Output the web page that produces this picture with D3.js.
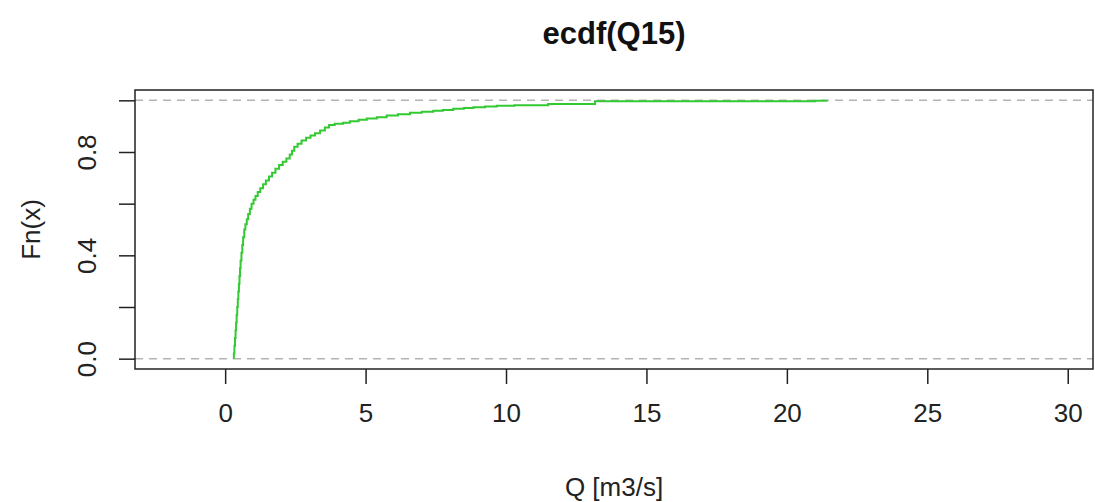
<!DOCTYPE html>
<html>
<head>
<meta charset="utf-8">
<script src="https://cdn.jsdelivr.net/npm/d3@7"></script>
<style>
  body { margin: 0; background: #fff; }
  svg { display: block; font-family: "Liberation Sans", Arial, sans-serif; }
</style>
</head>
<body>
<svg id="chart" width="1095" height="502"></svg>
<script>
// ECDF knots (Q in m3/s) and Fn values
const qKnots = [0.31, 0.31, 0.33, 0.35, 0.37, 0.39, 0.41, 0.43, 0.45, 0.47, 0.49, 0.51, 0.53, 0.55, 0.58, 0.61, 0.64, 0.68, 0.72, 0.77, 0.82, 0.88, 0.94, 1.01, 1.08, 1.16, 1.25, 1.35, 1.45, 1.56, 1.67, 1.79, 1.92, 2.05, 2.18, 2.30, 2.38, 2.46, 2.58, 2.72, 2.88, 3.04, 3.20, 3.38, 3.55, 3.70, 3.90, 4.20, 4.44, 4.75, 5.04, 5.40, 5.75, 6.15, 6.58, 7.00, 7.41, 7.75, 8.12, 8.50, 8.84, 9.25, 9.67, 10.3, 11.5, 13.17, 21.0, 21.42];
const fnValues = [0.0, 0.02, 0.05, 0.08, 0.11, 0.14, 0.17, 0.20, 0.23, 0.26, 0.29, 0.32, 0.35, 0.38, 0.41, 0.44, 0.47, 0.50, 0.52, 0.54, 0.56, 0.58, 0.60, 0.615, 0.63, 0.645, 0.66, 0.675, 0.69, 0.705, 0.72, 0.735, 0.75, 0.762, 0.775, 0.79, 0.805, 0.82, 0.832, 0.845, 0.855, 0.864, 0.873, 0.883, 0.895, 0.905, 0.909, 0.913, 0.919, 0.925, 0.930, 0.935, 0.941, 0.946, 0.952, 0.956, 0.960, 0.963, 0.967, 0.970, 0.973, 0.976, 0.979, 0.981, 0.986, 0.996, 0.998, 1.0];
const xTicks = [0, 5, 10, 15, 20, 25, 30];
const yTicks = [0, 0.2, 0.4, 0.6, 0.8, 1.0];
const yTickLabels = ["0.0", "", "0.4", "", "0.8", ""];
const refLines = [0, 1];
const title = "ecdf(Q15)";
const xLabel = "Q [m3/s]";
const yLabel = "Fn(x)";

const svg = d3.select("#chart");
const L = 135, R = 1093, T = 90, B = 369;
const x = d3.scaleLinear().domain([-3.21, 30.9]).range([L, R]);
const y = d3.scaleLinear().domain([-0.04, 1.04]).range([B, T]);

// reference dashed lines
svg.selectAll("line.ref").data(refLines).enter().append("line")
  .attr("x1", L).attr("x2", R)
  .attr("y1", d => y(d)).attr("y2", d => y(d))
  .attr("stroke", "#b3b3b3").attr("stroke-width", 1.5)
  .attr("stroke-dasharray", "8,6");

// ecdf line
const pts = qKnots.map((q, i) => [q, fnValues[i]]);
const line = d3.line().x(d => x(d[0])).y(d => y(d[1])).curve(d3.curveStepAfter);
svg.append("path").datum(pts)
  .attr("d", line)
  .attr("fill", "none")
  .attr("stroke", "#33c933")
  .attr("stroke-width", 2);

// box
svg.append("rect").attr("x", L).attr("y", T).attr("width", R - L).attr("height", B - T)
  .attr("fill", "none").attr("stroke", "#222").attr("stroke-width", 1.5);

// x axis
const xAxis = d3.axisBottom(x).tickValues(xTicks).tickSize(15).tickPadding(20).tickFormat(d3.format("d"));
const gx = svg.append("g").attr("transform", `translate(0,${B})`).call(xAxis);
gx.select(".domain").remove();
gx.selectAll(".tick line").attr("stroke", "#222").attr("stroke-width", 1.5);
gx.selectAll(".tick text").attr("font-size", 26).attr("fill", "#222")
  .attr("font-family", "Liberation Sans, Arial, sans-serif");

// y axis
const yAxis = d3.axisLeft(y).tickValues(yTicks).tickSize(16).tickFormat((d, i) => yTickLabels[i]);
const gy = svg.append("g").attr("transform", `translate(${L},0)`).call(yAxis);
gy.select(".domain").remove();
gy.selectAll(".tick line").attr("stroke", "#222").attr("stroke-width", 1.5);
gy.selectAll(".tick text")
  .attr("font-size", 26).attr("fill", "#222")
  .attr("font-family", "Liberation Sans, Arial, sans-serif")
  .attr("x", 0).attr("dy", 0)
  .attr("text-anchor", "middle")
  .attr("transform", "translate(-39,0) rotate(-90)");

// title
svg.append("text").attr("x", (L + R) / 2).attr("y", 44)
  .attr("text-anchor", "middle").attr("font-weight", "bold").attr("font-size", 31)
  .attr("fill", "#111").text(title);

// x label
svg.append("text").attr("x", (L + R) / 2).attr("y", 496)
  .attr("text-anchor", "middle").attr("font-size", 26).attr("fill", "#222").text(xLabel);

// y label
svg.append("text").attr("transform", `translate(40,${(T + B) / 2}) rotate(-90)`)
  .attr("text-anchor", "middle").attr("font-size", 26).attr("fill", "#222").text(yLabel);
</script>
</body>
</html>
